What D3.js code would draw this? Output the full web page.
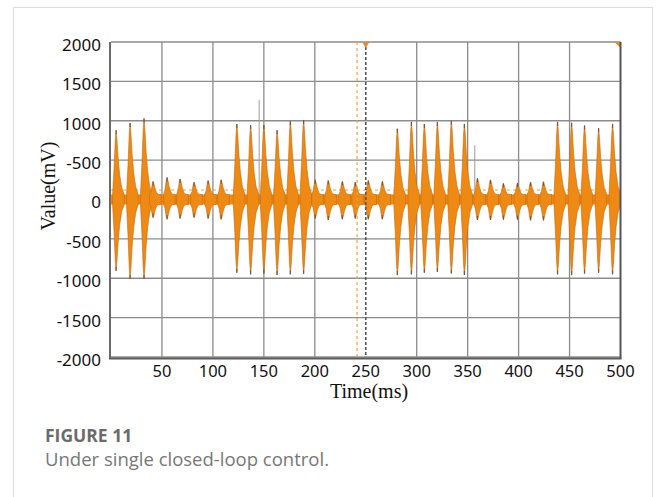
<!DOCTYPE html>
<html>
<head>
<meta charset="utf-8">
<script src="https://cdn.jsdelivr.net/npm/d3@7"></script>
<style>
  body { margin: 0; background: #fff; }
  svg { display: block; }
</style>
</head>
<body>
<div id="chart"></div>
<script>
// y tick values and the labels printed on them (the +500 label reads "-500" in the original)
const yTickValues = [-2000, -1500, -1000, -500, 0, 500, 1000, 1500, 2000];
const yTickLabels = ["-2000", "-1500", "-1000", "-500", "0", "-500", "1000", "1500", "2000"];
const xTickValues = [50, 100, 150, 200, 250, 300, 350, 400, 450, 500];

// bursts: time (ms), positive peak (mV), negative peak (mV)
const burstTime = [5, 18.7, 32.4,
  41.3, 55, 67.8, 81.5, 95.3, 108.1,
  123.5, 137, 150, 163, 176, 189,
  200.4, 213.2, 227, 239.7, 252.5, 266.3,
  281, 294.8, 307.5, 320.3, 334, 346.8,
  359.6, 372.4, 385.1, 398.9, 411.7, 424.4,
  438.2, 452, 464.7, 478.5, 492.2];
const burstHigh = [880, 970, 1030,
  230, 280, 260, 220, 240, 250,
  960, 945, 945, 880, 995, 1010,
  250, 240, 230, 220, 240, 230,
  900, 985, 960, 985, 1000, 960,
  270, 250, 205, 210, 220, 225,
  985, 975, 940, 905, 960];
const burstLow = [-905, -1010, -1010,
  -230, -250, -240, -230, -240, -250,
  -930, -950, -940, -960, -950, -945,
  -240, -260, -250, -240, -250, -250,
  -960, -950, -930, -920, -940, -960,
  -260, -260, -255, -255, -265, -265,
  -950, -960, -940, -930, -950];

// envelope of one burst (offset in ms, fraction of the peak)
const envOffset = [-3.4, -2, -0.8, 0, 0.8, 2, 3.5, 5.5, 8];
const envScale = [0.08, 0.45, 0.86, 1, 0.88, 0.6, 0.36, 0.17, 0.06];

// background ripple between bursts
const baseTime = [0, 500];
const baseHigh = [65, 65];
const baseLow = [-65, -65];

// thin stray traces
const strayTime = [145.4, 357];
const strayValue = [1262, 690];

// cursor markers
const cursorOrange = 241.5;
const cursorDark = 250;
const levelOrange = 120;

const width = 658, height = 497;
const margin = {top: 42, right: 37, bottom: 140, left: 111};

const svg = d3.select("#chart").append("svg")
  .attr("width", width)
  .attr("height", height);

// card frame
svg.append("rect")
  .attr("x", 13.5).attr("y", 7.5)
  .attr("width", 639).attr("height", 500)
  .attr("fill", "#fff")
  .attr("stroke", "#dcdcdc");

const x = d3.scaleLinear()
  .domain([0, 500])
  .range([margin.left, width - margin.right - 0.5]);

const y = d3.scaleLinear()
  .domain([-2000, 2000])
  .range([height - margin.bottom, margin.top]);

// grid
svg.append("g")
  .selectAll("line")
  .data(yTickValues)
  .join("line")
  .attr("x1", x(0)).attr("x2", x(500))
  .attr("y1", d => y(d)).attr("y2", d => y(d))
  .attr("stroke", "#8c8c8c")
  .attr("stroke-width", 1.3);

svg.append("g")
  .selectAll("line")
  .data(xTickValues.filter(d => d != 250 && d != 500))
  .join("line")
  .attr("x1", d => x(d)).attr("x2", d => x(d))
  .attr("y1", y(2000)).attr("y2", y(-2000))
  .attr("stroke", "#8c8c8c")
  .attr("stroke-width", 1.3);

// horizontal cursor level
svg.append("line")
  .attr("x1", x(0)).attr("x2", x(500))
  .attr("y1", y(levelOrange)).attr("y2", y(levelOrange))
  .attr("stroke", "#f3a040")
  .attr("stroke-width", 1)
  .attr("stroke-dasharray", "3,3");

// baseline ripple
svg.append("path")
  .datum(baseTime.map((t, i) => ({t: t, hi: baseHigh[i], lo: baseLow[i]})))
  .attr("fill", "#ee8a14")
  .attr("d", d3.area()
    .x(d => x(d.t))
    .y0(d => y(d.lo))
    .y1(d => y(d.hi)));

// stray traces
svg.append("g")
  .selectAll("line")
  .data(strayTime.map((t, i) => ({t: t, v: strayValue[i]})))
  .join("line")
  .attr("x1", d => x(d.t)).attr("x2", d => x(d.t))
  .attr("y1", y(0)).attr("y2", d => y(d.v))
  .attr("stroke", "#a09a92")
  .attr("stroke-width", 1);

// bursts
const burstArea = d3.area()
  .x(d => x(d.t))
  .y0(d => y(d.lo))
  .y1(d => y(d.hi));

const bursts = burstTime.map((t, i) => envOffset.map((o, k) => ({
  t: Math.min(500, Math.max(0, t + o)),
  hi: Math.max(burstHigh[i] * envScale[k], 65),
  lo: Math.min(burstLow[i] * envScale[k], -65)
})));

svg.append("g")
  .selectAll("path")
  .data(bursts)
  .join("path")
  .attr("fill", "#ee8a14")
  .attr("stroke", "#c26a0a")
  .attr("stroke-width", 0.6)
  .attr("d", burstArea);

// peak tips
svg.append("g")
  .selectAll("g")
  .data(burstTime.map((t, i) => ({t: t, hi: burstHigh[i], lo: burstLow[i]})))
  .join("g")
  .call(g => g.append("line")
    .attr("x1", d => x(d.t)).attr("x2", d => x(d.t))
    .attr("y1", d => y(d.hi)).attr("y2", d => y(d.hi) + 4)
    .attr("stroke", "#6e5a48").attr("stroke-width", 1.2))
  .call(g => g.append("line")
    .attr("x1", d => x(d.t)).attr("x2", d => x(d.t))
    .attr("y1", d => y(d.lo)).attr("y2", d => y(d.lo) - 4)
    .attr("stroke", "#6e5a48").attr("stroke-width", 1.2));

// vertical cursors
svg.append("line")
  .attr("x1", x(cursorOrange)).attr("x2", x(cursorOrange))
  .attr("y1", y(2000)).attr("y2", y(-2000))
  .attr("stroke", "#f3a040")
  .attr("stroke-width", 1.2)
  .attr("stroke-dasharray", "3,3");

svg.append("line")
  .attr("x1", x(cursorDark)).attr("x2", x(cursorDark))
  .attr("y1", y(2000)).attr("y2", y(-2000))
  .attr("stroke", "#555")
  .attr("stroke-width", 1.6)
  .attr("stroke-dasharray", "3,2");

// cursor markers at the top
svg.append("path")
  .attr("d", d3.symbol(d3.symbolTriangle, 22)())
  .attr("transform", `translate(${x(cursorDark)},${y(2000) + 2}) rotate(180)`)
  .attr("fill", "#e8892a");
svg.append("path")
  .attr("d", `M${x(500) - 6},${y(2000)} L${x(500)},${y(2000)} L${x(500)},${y(2000) + 6} Z`)
  .attr("fill", "#e8892a");

// frame lines
svg.append("line")
  .attr("x1", x(0) - 1).attr("x2", x(0) - 1)
  .attr("y1", y(2000)).attr("y2", y(-2000) + 2)
  .attr("stroke", "#6a6a6a").attr("stroke-width", 2);
svg.append("line")
  .attr("x1", x(500)).attr("x2", x(500))
  .attr("y1", y(2000)).attr("y2", y(-2000) + 2)
  .attr("stroke", "#555").attr("stroke-width", 2);
svg.append("line")
  .attr("x1", x(0) - 2).attr("x2", x(500) + 1)
  .attr("y1", y(-2000) + 1.5).attr("y2", y(-2000) + 1.5)
  .attr("stroke", "#5a5a5a").attr("stroke-width", 2.2);

// tick labels
svg.append("g")
  .selectAll("text")
  .data(yTickValues)
  .join("text")
  .attr("x", 101)
  .attr("y", d => y(d) + 3)
  .attr("dy", "0.35em")
  .attr("text-anchor", "end")
  .attr("font-family", "'Noto Sans', sans-serif")
  .attr("font-size", 17)
  .attr("fill", "#111")
  .text((d, i) => yTickLabels[i]);

svg.append("g")
  .selectAll("text")
  .data(xTickValues)
  .join("text")
  .attr("x", d => x(d))
  .attr("y", y(-2000) + 14)
  .attr("dy", "0.35em")
  .attr("text-anchor", "middle")
  .attr("font-family", "'Noto Sans', sans-serif")
  .attr("font-size", 16.5)
  .attr("fill", "#111")
  .text(d => d);

// axis titles
svg.append("text")
  .attr("x", 369)
  .attr("y", 398)
  .attr("text-anchor", "middle")
  .attr("font-family", "'Liberation Serif', serif")
  .attr("font-size", 20)
  .attr("fill", "#111")
  .text("Time(ms)");

svg.append("text")
  .attr("transform", "translate(55,186) rotate(-90)")
  .attr("text-anchor", "middle")
  .attr("font-family", "'Liberation Serif', serif")
  .attr("font-size", 20)
  .attr("fill", "#111")
  .text("Value(mV)");

// caption
svg.append("text")
  .attr("x", 45).attr("y", 442)
  .attr("font-family", "'Open Sans', sans-serif")
  .attr("font-weight", "bold")
  .attr("font-size", 17.5)
  .attr("fill", "#6b6b6b")
  .text("FIGURE 11");

svg.append("text")
  .attr("x", 45).attr("y", 466)
  .attr("font-family", "'Open Sans', sans-serif")
  .attr("font-size", 18.5)
  .attr("fill", "#777")
  .text("Under single closed-loop control.");
</script>
</body>
</html>
